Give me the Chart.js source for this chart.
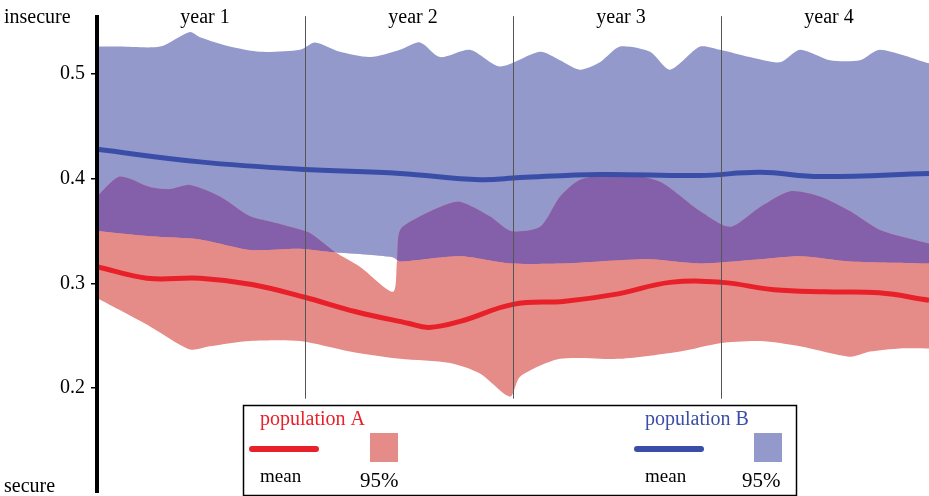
<!DOCTYPE html>
<html>
<head>
<meta charset="utf-8">
<script src="https://cdn.jsdelivr.net/npm/chart.js@4"></script>
<style>
 body { margin: 0; background: #fff; }
</style>
</head>
<body>
<canvas id="chart" width="929" height="496"></canvas>
<script>
// x in years (0..4), y in insecurity score
const yearLabels = ["year 1", "year 2", "year 3", "year 4"];
const yTicks = [0.2, 0.3, 0.4, 0.5];

const redMeanX = [0, 0.24, 0.495, 0.745, 0.995, 1.245, 1.495, 1.596, 1.75, 2.0, 2.25, 2.505, 2.755, 3.005, 3.255, 3.505, 3.76, 4.0];
const redMean = [0.316, 0.305, 0.305, 0.299, 0.287, 0.273, 0.262, 0.258, 0.264, 0.280, 0.283, 0.290, 0.301, 0.301, 0.294, 0.292, 0.291, 0.284];

const blueMeanX = [0, 0.495, 0.976, 1.457, 1.841, 2.034, 2.418, 2.899, 3.188, 3.476, 4.0];
const blueMean = [0.428, 0.416, 0.409, 0.405, 0.399, 0.401, 0.404, 0.403, 0.406, 0.402, 0.405];

const blueUpperX = [0, 0.11, 0.303, 0.447, 0.495, 0.639, 0.784, 0.976, 1.048, 1.168, 1.313, 1.457, 1.553, 1.649, 1.793, 1.938, 2.13, 2.226, 2.322, 2.418, 2.514, 2.659, 2.755, 2.899, 2.995, 3.139, 3.284, 3.38, 3.524, 3.668, 3.764, 4.0];
const blueUpper = [0.526, 0.526, 0.526, 0.540, 0.535, 0.526, 0.521, 0.523, 0.530, 0.521, 0.516, 0.523, 0.530, 0.516, 0.523, 0.507, 0.521, 0.513, 0.504, 0.511, 0.526, 0.521, 0.504, 0.526, 0.523, 0.516, 0.511, 0.523, 0.513, 0.513, 0.523, 0.510];

const blueLowerX = [0, 0.255, 0.495, 0.736, 0.976, 1.12, 1.264, 1.423, 1.457, 1.745, 1.99, 2.226, 2.418, 2.659, 2.899, 3.188, 3.38, 3.62, 4.0];
const blueLower = [0.350, 0.345, 0.342, 0.332, 0.333, 0.330, 0.328, 0.325, 0.321, 0.326, 0.319, 0.319, 0.321, 0.323, 0.319, 0.323, 0.326, 0.321, 0.319];

const redUpperX = [0, 0.11, 0.255, 0.351, 0.447, 0.591, 0.736, 0.832, 0.928, 1.024, 1.144, 1.264, 1.423, 1.442, 1.457, 1.553, 1.649, 1.745, 1.889, 1.99, 2.13, 2.226, 2.322, 2.514, 2.707, 2.899, 3.043, 3.188, 3.332, 3.476, 3.62, 3.764, 4.0];
const redUpper = [0.383, 0.402, 0.392, 0.390, 0.394, 0.383, 0.364, 0.359, 0.354, 0.348, 0.330, 0.316, 0.292, 0.321, 0.351, 0.364, 0.373, 0.378, 0.364, 0.350, 0.354, 0.383, 0.399, 0.405, 0.397, 0.369, 0.354, 0.373, 0.388, 0.383, 0.369, 0.351, 0.338];

const redLowerX = [0, 0.255, 0.447, 0.543, 0.736, 0.976, 1.216, 1.457, 1.697, 1.841, 1.986, 2.034, 2.226, 2.514, 2.803, 2.995, 3.188, 3.38, 3.62, 3.716, 3.861, 4.0];
const redLower = [0.286, 0.259, 0.237, 0.240, 0.245, 0.245, 0.235, 0.228, 0.224, 0.214, 0.192, 0.211, 0.228, 0.228, 0.235, 0.243, 0.245, 0.240, 0.230, 0.235, 0.238, 0.238];

const pts = (xs, ys) => xs.map((x, i) => ({ x: x, y: ys[i] }));

const RED = "#e8202a", BLUE = "#3a4ea8";
const PINK = "#e58c88", LAVENDER = "#9499cc", PURPLE = "#8460aa";
const SERIF = "'Liberation Serif', 'DejaVu Serif', serif";

const band = (label, data, extra) => Object.assign({
 label: label, data: data, borderWidth: 0, pointRadius: 0, tension: 0.25,
}, extra);

// Decorations: year labels, vertical dividers, axis words, legend box
const decorations = {
 id: "decorations",
 afterDatasetsDraw(chart) {
  const { ctx, scales: { x, y } } = chart;
  ctx.save();
  ctx.strokeStyle = "#555";
  ctx.lineWidth = 1;
  [1, 2, 3].forEach((yr) => {
   const px = Math.round(x.getPixelForValue(yr)) + 0.5;
   ctx.beginPath();
   ctx.moveTo(px, y.getPixelForValue(0.555));
   ctx.lineTo(px, y.getPixelForValue(0.19));
   ctx.stroke();
  });
  ctx.restore();
 },
 afterDraw(chart) {
  const { ctx, scales: { x } } = chart;
  ctx.save();
  // thick axis line
  ctx.fillStyle = "#000";
  ctx.fillRect(95, 15, 4, 478);

  ctx.font = "20px " + SERIF;
  ctx.textBaseline = "middle";
  ctx.textAlign = "center";
  yearLabels.forEach((lab, i) => ctx.fillText(lab, x.getPixelForValue(i + 0.5) + 4, 18));
  ctx.textAlign = "left";
  ctx.fillText("insecure", 4, 18);
  ctx.fillText("secure", 4, 487);

  // legend box
  ctx.fillStyle = "#fff";
  ctx.fillRect(243, 405, 554, 91);
  ctx.strokeStyle = "#000";
  ctx.lineWidth = 1.5;
  ctx.strokeRect(243.5, 405.5, 553, 90);

  const entry = (x0, name, lineCol, boxCol, sqX, pctX) => {
   ctx.fillStyle = lineCol;
   ctx.textAlign = "left";
   ctx.font = "20px " + SERIF;
   ctx.fillText(name, x0 + 10, 420);
   ctx.strokeStyle = lineCol;
   ctx.lineWidth = 6;
   ctx.lineCap = "round";
   ctx.beginPath();
   ctx.moveTo(x0 + 2, 449);
   ctx.lineTo(x0 + 66, 449);
   ctx.stroke();
   ctx.fillStyle = "#000";
   ctx.font = "19px " + SERIF;
   ctx.fillText("mean", x0 + 10, 477);
   ctx.fillStyle = boxCol;
   ctx.fillRect(sqX, 433, 28, 29);
   ctx.fillStyle = "#000";
   ctx.font = "21px " + SERIF;
   ctx.fillText("95%", pctX, 481);
  };
  entry(250, "population A", RED, PINK, 370, 360);
  entry(635, "population B", BLUE, LAVENDER, 754, 742);
  ctx.restore();
 },
};

new Chart(document.getElementById("chart"), {
 type: "line",
 data: {
  datasets: [
   { label: "A mean", data: pts(redMeanX, redMean), borderColor: RED, borderWidth: 5, pointRadius: 0, tension: 0.4, fill: false },
   { label: "B mean", data: pts(blueMeanX, blueMean), borderColor: BLUE, borderWidth: 5, pointRadius: 0, tension: 0.4, fill: false },
   band("overlap", pts(redUpperX, redUpper), { fill: { target: 6, above: PURPLE, below: "rgba(0,0,0,0)" } }),
   band("A upper", pts(redUpperX, redUpper), { fill: { target: 4 }, backgroundColor: PINK }),
   band("A lower", pts(redLowerX, redLower), { fill: false }),
   band("B upper", pts(blueUpperX, blueUpper), { fill: { target: 6 }, backgroundColor: LAVENDER }),
   band("B lower", pts(blueLowerX, blueLower), { fill: false }),
  ],
 },
 options: {
  responsive: false,
  animation: false,
  layout: { padding: 0 },
  plugins: {
   legend: { display: false },
   tooltip: { enabled: false },
   filler: { drawTime: "beforeDatasetsDraw" },
  },
  scales: {
   x: {
    type: "linear", min: 0, max: 4, display: false,
   },
   y: {
    min: 0.1143, max: 0.5533,
    afterFit: (scale) => { scale.width = 97; },
    afterBuildTicks: (scale) => { scale.ticks = yTicks.map((v) => ({ value: v })); },
    ticks: { color: "#000", font: { family: SERIF, size: 20 }, padding: 6, callback: (v) => v.toFixed(1) },
    grid: { drawOnChartArea: false, color: "#000", tickLength: 6, lineWidth: 1.5 },
    border: { display: false },
   },
  },
 },
 plugins: [decorations],
});
</script>
</body>
</html>
